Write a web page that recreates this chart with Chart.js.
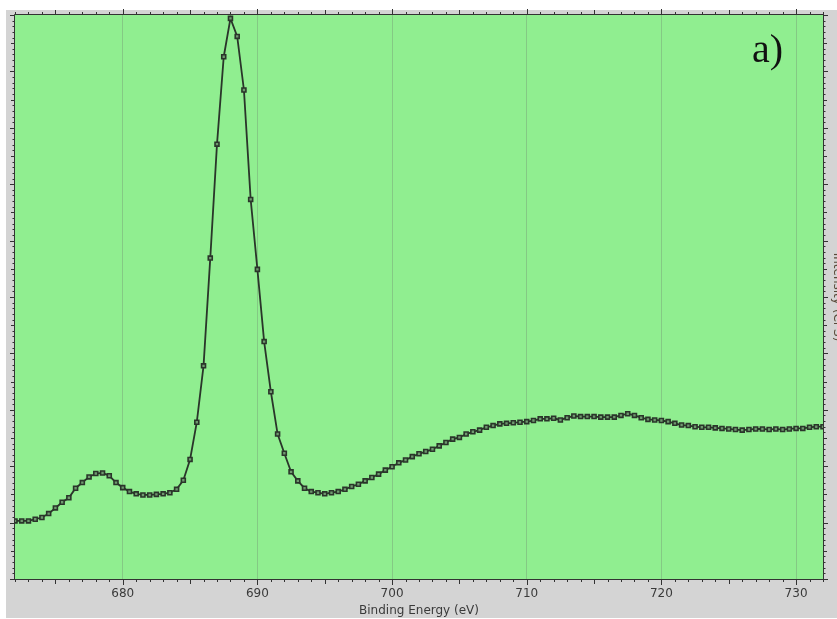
<!DOCTYPE html>
<html>
<head>
<meta charset="utf-8">
<script src="https://cdn.jsdelivr.net/npm/chart.js@4/dist/chart.umd.min.js"></script>
<style>
  html, body { margin: 0; padding: 0; background: #fff; }
  canvas { display: block; }
</style>
</head>
<body>
<canvas id="chart" width="837" height="619"></canvas>
<script>
// binding energy (eV), one point every 0.5 eV
const energies = [
  672, 672.5, 673, 673.5, 674, 674.5, 675, 675.5, 676, 676.5,
  677, 677.5, 678, 678.5, 679, 679.5, 680, 680.5, 681, 681.5,
  682, 682.5, 683, 683.5, 684, 684.5, 685, 685.5, 686, 686.5,
  687, 687.5, 688, 688.5, 689, 689.5, 690, 690.5, 691, 691.5,
  692, 692.5, 693, 693.5, 694, 694.5, 695, 695.5, 696, 696.5,
  697, 697.5, 698, 698.5, 699, 699.5, 700, 700.5, 701, 701.5,
  702, 702.5, 703, 703.5, 704, 704.5, 705, 705.5, 706, 706.5,
  707, 707.5, 708, 708.5, 709, 709.5, 710, 710.5, 711, 711.5,
  712, 712.5, 713, 713.5, 714, 714.5, 715, 715.5, 716, 716.5,
  717, 717.5, 718, 718.5, 719, 719.5, 720, 720.5, 721, 721.5,
  722, 722.5, 723, 723.5, 724, 724.5, 725, 725.5, 726, 726.5,
  727, 727.5, 728, 728.5, 729, 729.5, 730, 730.5, 731, 731.5,
  732,
];
// intensity, arbitrary units (no labels on the y axis)
const intensity = [
  1.03, 1.03, 1.03, 1.06, 1.09, 1.16, 1.26, 1.36, 1.44, 1.61,
  1.71, 1.81, 1.87, 1.88, 1.83, 1.71, 1.62, 1.55, 1.51, 1.49,
  1.49, 1.50, 1.51, 1.53, 1.59, 1.75, 2.12, 2.78, 3.78, 5.69,
  7.71, 9.26, 9.94, 9.62, 8.67, 6.73, 5.49, 4.21, 3.32, 2.57,
  2.23, 1.90, 1.74, 1.61, 1.55, 1.53, 1.51, 1.53, 1.55, 1.59,
  1.64, 1.68, 1.74, 1.80, 1.86, 1.93, 1.99, 2.06, 2.11, 2.17,
  2.22, 2.26, 2.30, 2.36, 2.42, 2.48, 2.51, 2.57, 2.61, 2.64,
  2.69, 2.72, 2.75, 2.76, 2.77, 2.78, 2.79, 2.81, 2.84, 2.84,
  2.85, 2.82, 2.86, 2.89, 2.88, 2.88, 2.88, 2.87, 2.87, 2.87,
  2.90, 2.93, 2.90, 2.86, 2.83, 2.82, 2.81, 2.79, 2.76, 2.73,
  2.72, 2.70, 2.69, 2.69, 2.68, 2.67, 2.66, 2.65, 2.64, 2.65,
  2.66, 2.66, 2.65, 2.66, 2.65, 2.66, 2.67, 2.67, 2.69, 2.70,
  2.70,
];
const xTickValues = [680, 690, 700, 710, 720, 730];
const xMin = 672;
const xMax = 732;
const yMin = 0;
const yMax = 10;
const xTitle = 'Binding Energy (eV)';
const yTitle = 'Intensity (CPS)';
const panelLabel = 'a)';

const GREEN = '#90ee90';
const GRAY = '#d4d4d4';
const INK = '#2a352a';

let points = energies.map((x, i) => ({ x, y: intensity[i] }));

// panel backgrounds, frame, tick marks and the "a)" label
let frame = {
  id: 'frame',
  beforeDraw(chart) {
    let { ctx, chartArea: a } = chart;
    ctx.save();
    ctx.fillStyle = '#fff';
    ctx.fillRect(0, 0, chart.width, chart.height);
    ctx.fillStyle = GRAY;
    ctx.fillRect(6, 10, chart.width - 6, 608);
    ctx.fillStyle = GREEN;
    ctx.fillRect(a.left, a.top, a.right - a.left, a.bottom - a.top);
    ctx.restore();
  },
  afterDraw(chart) {
    let { ctx, chartArea: a, scales } = chart;
    let xs = scales.x, ys = scales.y;
    ctx.save();
    ctx.strokeStyle = '#333';
    ctx.lineWidth = 1;
    ctx.beginPath();
    ctx.moveTo(a.left - 0.5, a.top - 0.5);
    ctx.lineTo(a.right + 0.5, a.top - 0.5);
    ctx.lineTo(a.right + 0.5, a.bottom + 0.5);
    ctx.lineTo(a.left - 0.5, a.bottom + 0.5);
    ctx.closePath();
    ctx.stroke();

    ctx.beginPath();
    for (let v = xMin; v <= xMax; v++) {
      let px = Math.round(xs.getPixelForValue(v)) + 0.5;
      let len = v % 10 === 0 ? 6 : v % 5 === 0 ? 5 : 3;
      ctx.moveTo(px, a.bottom);
      ctx.lineTo(px, a.bottom + len);
      ctx.moveTo(px, a.top);
      ctx.lineTo(px, a.top - len);
    }
    for (let k = 0; k <= 100; k++) {
      let py = Math.round(ys.getPixelForValue(yMin + k / 10)) + 0.5;
      let len = k % 10 === 0 ? 5 : k % 5 === 0 ? 4 : 2.5;
      ctx.moveTo(a.left, py);
      ctx.lineTo(a.left - len, py);
      ctx.moveTo(a.right, py);
      ctx.lineTo(a.right + len, py);
    }
    ctx.stroke();

    ctx.fillStyle = '#111';
    ctx.font = '40px "Liberation Serif", "DejaVu Serif", serif';
    ctx.textBaseline = 'alphabetic';
    ctx.fillText(panelLabel, 752, 62);
    ctx.restore();
  },
};

new Chart(document.getElementById('chart'), {
  type: 'line',
  data: {
    datasets: [{
      data: points,
      borderColor: INK,
      borderWidth: 1.8,
      tension: 0,
      pointStyle: 'rect',
      pointRadius: 2.8,
      pointBorderWidth: 1.6,
      pointBorderColor: INK,
      pointBackgroundColor: '#6f9a6f',
    }],
  },
  options: {
    responsive: false,
    devicePixelRatio: 1,
    animation: false,
    layout: { padding: { top: 15, left: 0, right: 0, bottom: 0 } },
    plugins: {
      legend: { display: false },
      tooltip: { enabled: false },
    },
    scales: {
      x: {
        type: 'linear',
        min: xMin,
        max: xMax,
        afterBuildTicks: s => { s.ticks = xTickValues.map(value => ({ value })); },
        afterFit: s => { s.height = 40; },
        ticks: {
          autoSkip: false,
          maxRotation: 0,
          padding: 8,
          color: '#3a3a3a',
          font: { family: '"DejaVu Sans", sans-serif', size: 12 },
        },
        grid: { color: 'rgba(110,125,110,0.32)', lineWidth: 1, drawTicks: false },
        border: { display: false },
        title: {
          display: true,
          text: xTitle,
          color: '#3a3a3a',
          padding: { top: 0, bottom: 1 },
          font: { family: '"DejaVu Sans", sans-serif', size: 12 },
        },
      },
      y: {
        position: 'left',
        min: yMin,
        max: yMax,
        afterFit: s => { s.width = 15; },
        ticks: { display: false },
        grid: { display: false },
        border: { display: false },
      },
      y2: {
        position: 'right',
        min: yMin,
        max: yMax,
        afterFit: s => { s.width = 14; },
        ticks: { display: false },
        grid: { display: false },
        border: { display: false },
        title: {
          display: true,
          text: yTitle,
          color: '#5a4a3a',
          padding: { top: -7, bottom: 0 },
          font: { family: '"DejaVu Sans", sans-serif', size: 12 },
        },
      },
    },
  },
  plugins: [frame],
});
</script>
</body>
</html>
